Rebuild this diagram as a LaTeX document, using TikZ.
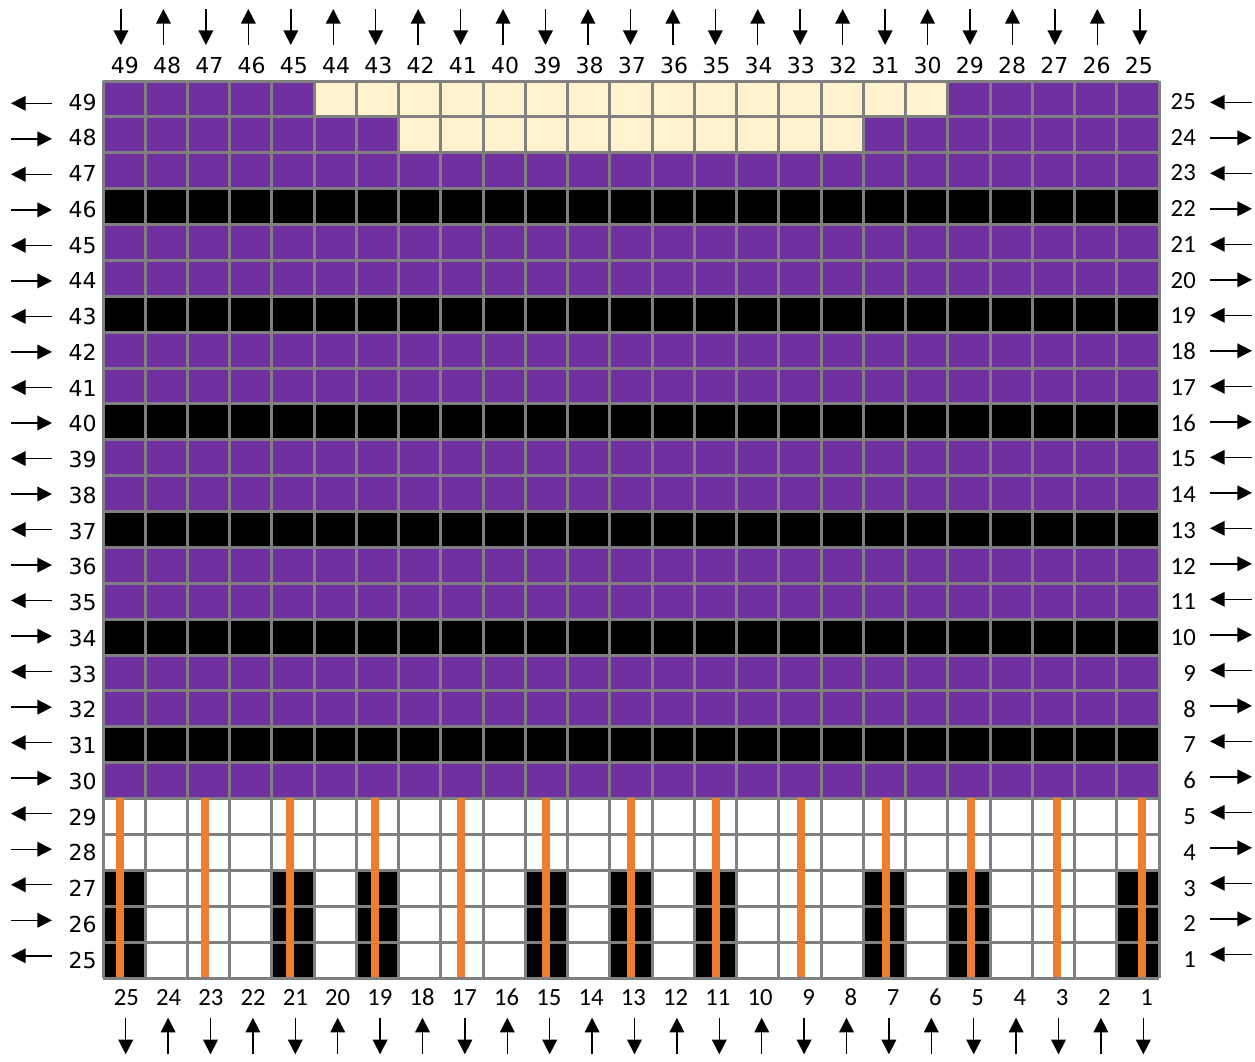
\documentclass[tikz,border=0pt]{standalone}
\usepackage{fontspec}
\newfontfamily\topfont{DejaVu Sans}
\newfontfamily\sidefont{Carlito}
\usetikzlibrary{arrows.meta}
\definecolor{knitpurple}{HTML}{7030A0}
\definecolor{knitcream}{HTML}{FFF2CC}
\definecolor{knitorange}{HTML}{ED7D31}
\definecolor{gridgray}{HTML}{808080}

\begin{document}
\begin{tikzpicture}[x=0.75pt, y=-0.75pt,
    dirarr/.style={-{Triangle[length=11pt, width=11pt]}, line width=1.1pt},
    toplbl/.style={font=\fontsize{16.5}{18}\topfont, anchor=base east, inner sep=0pt},
    sidelbl/.style={font=\fontsize{18.5}{20}\sidefont, anchor=base east, inner sep=0pt},
    gridline/.style={draw=gridgray, line width=2.25pt},
    yarn/.style={fill=knitorange}
  ]
    \useasboundingbox (0,0) rectangle (1255,1061);
    \def\cw{42.24}
    \def\ch{35.88}

    % colour blocks
    \fill[knitpurple] (103,81) rectangle (1159,{81+20*\ch});
    \foreach \r in {3,6,...,18}
      \fill[black] (103,{81+\r*\ch}) rectangle (1159,{81+(\r+1)*\ch});
    \fill[knitcream] ({103+5*\cw},81) rectangle ({103+20*\cw},{81+\ch});
    \fill[knitcream] ({103+7*\cw},{81+\ch}) rectangle ({103+18*\cw},{81+2*\ch});
    \foreach \c in {0,4,6,10,12,14,18,20,24}
      \fill[black] ({103+\c*\cw},{81+22*\ch}) rectangle ({103+(\c+1)*\cw},{81+25*\ch});

    % grid
    \foreach \i in {0,...,25} {
      \draw[gridline] ({103+\i*\cw},81) -- ({103+\i*\cw},978);
      \draw[gridline] (103,{81+\i*\ch}) -- (1159,{81+\i*\ch});
    }

    % orange strands
    \foreach \k in {0,...,12}
      \fill[yarn] ({116+\k*85.14},798) rectangle ({124+\k*85.14},977);

    % column labels and arrows
    \foreach \i in {0,...,24} {
      \pgfmathtruncatemacro{\tn}{49-\i}
      \pgfmathtruncatemacro{\bn}{25-\i}
      \node[toplbl] (t\i) at ({103+(\i+1)*\cw-6},73) {\tn};
      \node[sidelbl] (b\i) at ({103+(\i+1)*\cw-6},1005) {\bn};
      \ifodd\i
        \draw[dirarr] ({121+\i*42.45},45) -- ({121+\i*42.45},9);
        \draw[dirarr] ({125.7+\i*42.4},1054.3) -- ({125.7+\i*42.4},1017.7);
      \else
        \draw[dirarr] ({121+\i*42.45},9) -- ({121+\i*42.45},45);
        \draw[dirarr] ({125.7+\i*42.4},1017.7) -- ({125.7+\i*42.4},1054.3);
      \fi
    }

    % row labels and arrows
    \foreach \r in {0,...,24} {
      \pgfmathtruncatemacro{\ln}{49-\r}
      \pgfmathtruncatemacro{\rn}{25-\r}
      \node[toplbl] (l\r) at (97,{110+\r*35.76}) {\ln};
      \node[sidelbl] (r\r) at (1196,{109.3+\r*35.76}) {\rn};
      \ifodd\r
        \draw[dirarr] (11,{103.3+\r*35.52}) -- (52,{103.3+\r*35.52});
        \draw[dirarr] (1210,{102.3+\r*35.5}) -- (1252,{102.3+\r*35.5});
      \else
        \draw[dirarr] (52,{103.3+\r*35.52}) -- (11,{103.3+\r*35.52});
        \draw[dirarr] (1252,{102.3+\r*35.5}) -- (1210,{102.3+\r*35.5});
      \fi
    }
\end{tikzpicture}
\end{document}
